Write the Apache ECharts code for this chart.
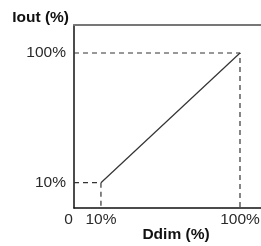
<!DOCTYPE html>
<html><head><meta charset="utf-8">
<script src="https://cdn.jsdelivr.net/npm/echarts@6/dist/echarts.min.js"></script>
<style>html,body{margin:0;padding:0;background:#fff}#c{width:261px;height:246px}</style>
</head><body><div id="c"></div>
<script>
// Data (percent)
var ddim = [10, 100];
var iout = [10, 100];
var xTicks = [10, 100];
var yTicks = [10, 100];
var originLabel = '0';
var xTitle = 'Ddim (%)';
var yTitle = 'Iout (%)';

// axis extents (schematic log scale)
var xMin = 6.4, xMax = 141.6;
var yMin = 6.38, yMax = 164.4;

var font = '"Liberation Sans", Arial, sans-serif';
var guides = [];
for (var i = 0; i < ddim.length; i++) {
  guides.push({
    type: 'line', symbol: 'none', silent: true,
    lineStyle: { color: '#333', width: 1.2, type: [5, 4] },
    data: [[xMin, iout[i]], [ddim[i], iout[i]], [ddim[i], yMin]]
  });
}
var chart = echarts.init(document.getElementById('c'), null, { renderer: 'canvas' });
chart.setOption({
  animation: false,
  grid: { left: 74, top: 25, right: 0, bottom: 38, containLabel: false, outerBoundsMode: 'none' },
  xAxis: [{
    type: 'log', logBase: 10, min: xMin, max: xMax,
    name: xTitle, nameLocation: 'middle', nameGap: 19, nameMoveOverlap: false,
    nameTextStyle: { fontFamily: font, fontSize: 15.5, fontWeight: 'bold', color: '#111', padding: [0, 0, 0, 17] },
    axisLine: { show: true, lineStyle: { color: '#111', width: 1.5 } },
    axisTick: { show: false }, splitLine: { show: false }, minorSplitLine: { show: false },
    axisLabel: {
      show: true, customValues: [xMin].concat(xTicks), margin: 4,
      fontFamily: font, fontSize: 15.5, color: '#2a2a2a',
      formatter: function (v) { return Math.abs(v - xMin) < 1e-6 ? '{z|' + originLabel + '}' : v + '%'; },
      rich: { z: { fontFamily: font, fontSize: 15.5, color: '#2a2a2a', padding: [0, 11, 0, 0] } }
    }
  }, {
    type: 'log', logBase: 10, min: xMin, max: xMax, position: 'top',
    axisLine: { show: true, lineStyle: { color: '#777', width: 2 } },
    axisTick: { show: false }, axisLabel: { show: false }, splitLine: { show: false }
  }],
  yAxis: {
    type: 'log', logBase: 10, min: yMin, max: yMax,
    name: yTitle, nameLocation: 'end', nameGap: -1, nameMoveOverlap: false,
    nameTextStyle: { fontFamily: font, fontSize: 15.5, fontWeight: 'bold', color: '#111', align: 'right', padding: [0, 5, 0, 0] },
    axisLine: { show: true, lineStyle: { color: '#111', width: 1.5 } },
    axisTick: { show: false }, splitLine: { show: false },
    axisLabel: {
      show: true, customValues: yTicks, margin: 8,
      fontFamily: font, fontSize: 15.5, color: '#2a2a2a',
      formatter: function (v) { return v + '%'; }
    }
  },
  series: guides.concat([{
    type: 'line', symbol: 'none', silent: true,
    lineStyle: { color: '#333', width: 1.2 },
    data: ddim.map(function (d, i) { return [d, iout[i]]; })
  }])
});
</script></body></html>
